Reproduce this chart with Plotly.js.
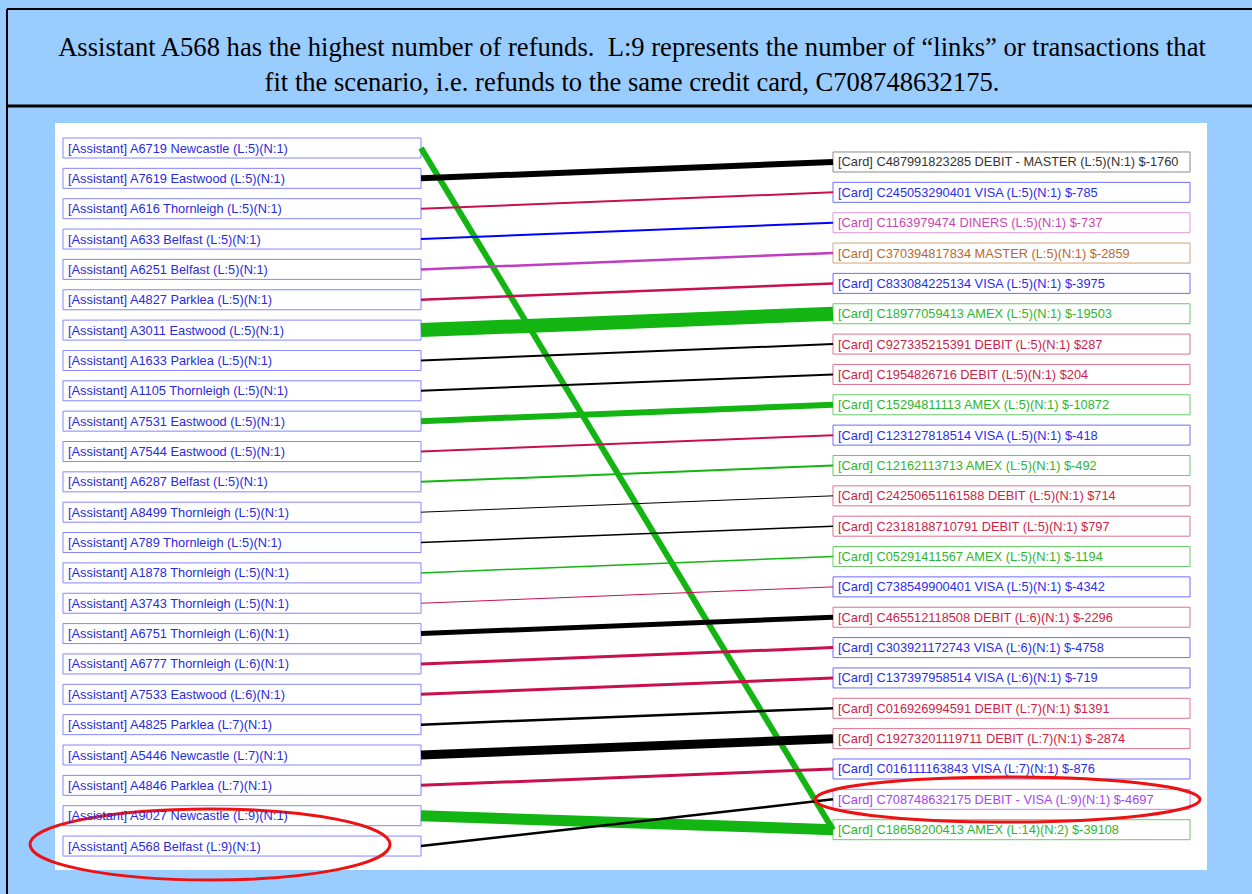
<!DOCTYPE html>
<html>
<head>
<meta charset="utf-8">
<script src="https://cdn.plot.ly/plotly-3.0.1.min.js"></script>
<style>html,body{margin:0;padding:0;background:#99ccff;}#chart{width:1252px;height:894px;}</style>
</head>
<body>
<div id="chart"></div>
<script>
// ---------- DATA ----------
const assistantIds = ["A6719","A7619","A616","A633","A6251","A4827","A3011","A1633","A1105","A7531","A7544","A6287","A8499","A789","A1878","A3743","A6751","A6777","A7533","A4825","A5446","A4846","A9027","A568"];
const assistantSites = ["Newcastle","Eastwood","Thornleigh","Belfast","Belfast","Parklea","Eastwood","Parklea","Thornleigh","Eastwood","Eastwood","Belfast","Thornleigh","Thornleigh","Thornleigh","Thornleigh","Thornleigh","Thornleigh","Eastwood","Parklea","Newcastle","Parklea","Newcastle","Belfast"];
const assistantLinks = [5,5,5,5,5,5,5,5,5,5,5,5,5,5,5,5,6,6,6,7,7,7,9,9];
const assistantN = [1,1,1,1,1,1,1,1,1,1,1,1,1,1,1,1,1,1,1,1,1,1,1,1];

const cardIds = ["C487991823285","C245053290401","C1163979474","C370394817834","C833084225134","C18977059413","C927335215391","C1954826716","C15294811113","C123127818514","C12162113713","C24250651161588","C2318188710791","C05291411567","C738549900401","C465512118508","C303921172743","C137397958514","C016926994591","C19273201119711","C016111163843","C708748632175","C18658200413"];
const cardTypes = ["DEBIT - MASTER","VISA","DINERS","MASTER","VISA","AMEX","DEBIT","DEBIT","AMEX","VISA","AMEX","DEBIT","DEBIT","AMEX","VISA","DEBIT","VISA","VISA","DEBIT","DEBIT","VISA","DEBIT - VISA","AMEX"];
const cardLinks = [5,5,5,5,5,5,5,5,5,5,5,5,5,5,5,6,6,6,7,7,7,9,14];
const cardN = [1,1,1,1,1,1,1,1,1,1,1,1,1,1,1,1,1,1,1,1,1,1,2];
const cardAmounts = [-1760,-785,-737,-2859,-3975,-19503,287,204,-10872,-418,-492,714,797,-1194,-4342,-2296,-4758,-719,1391,-2874,-876,-4697,-39108];

// links: assistant index -> card index
const linkFrom = [0,1,2,3,4,5,6,7,8,9,10,11,12,13,14,15,16,17,18,19,20,21,22,23];
const linkTo   = [22,0,1,2,3,4,5,6,7,8,9,10,11,12,13,14,15,16,17,18,19,20,22,21];

// ---------- STYLE ----------
const linkWidth = [6,6,2,2,2.5,2.5,14,2,2,6,2,2,1,1.5,1.5,1,5,3,3,2.5,9,3,11,2.5];
const linkColor = ["#12b512","#000000","#c8104f","#0000ff","#c03cc0","#c8104f","#12b512","#000000","#000000","#12b512","#c8104f","#12b512","#000000","#000000","#12b512","#c8104f","#000000","#c8104f","#c8104f","#000000","#000000","#c8104f","#12b512","#000000"];
const cardStyle = {
  "DEBIT - MASTER": {text:"#333333", border:"#8a8a8a"},
  "VISA":           {text:"#2b2bef", border:"#6c6cff"},
  "DINERS":         {text:"#cc44b0", border:"#e596d6"},
  "MASTER":         {text:"#b8682c", border:"#d2a276"},
  "AMEX":           {text:"#2eb52e", border:"#66cc66"},
  "DEBIT":          {text:"#cc2248", border:"#e0708e"},
  "DEBIT - VISA":   {text:"#a844ee", border:"#c77cff"}
};
const assistantText = "#2a2ae0", assistantBorder = "#8585ff";

// pixel frame of the graph (layout only)
const W = 1252, H = 894;
const X0PX = 421, XS = 412;     // x=0 at left column edge, x=1 at right column edge
const Y0PX = 148, YS = 30.35;   // y=row index
const RIGHT_OFF = 0.461;        // right column row offset
const boxHalf = 10 / YS;
const leftBoxX0 = (63 - X0PX) / XS, rightBoxX1 = (1190 - X0PX) / XS;
const labelFont = "Liberation Sans, Arial";
const labelSize = 12.8;

const fmtAmt = v => v < 0 ? "$-" + Math.abs(v) : "$" + v;

const traces = [];
for (let k = 0; k < linkFrom.length; k++) {
  traces.push({
    type: "scatter", mode: "lines",
    x: [0, 1],
    y: [linkFrom[k], linkTo[k] + RIGHT_OFF],
    line: {color: linkColor[k], width: linkWidth[k]},
    hoverinfo: "skip", showlegend: false
  });
}

const shapes = [];
const annotations = [];
const px = v => v / W, py = v => 1 - v / H;

// frame decorations (paper coordinates)
shapes.push({type:"rect", xref:"paper", yref:"paper", x0:px(55), x1:px(1207), y0:py(870), y1:py(123), fillcolor:"#ffffff", line:{width:0}, layer:"below"});
shapes.push({type:"line", xref:"paper", yref:"paper", x0:px(7), x1:px(1252), y0:py(9), y1:py(9), line:{color:"#000", width:2}, layer:"below"});
shapes.push({type:"line", xref:"paper", yref:"paper", x0:px(7), x1:px(1252), y0:py(106), y1:py(106), line:{color:"#000", width:3}, layer:"below"});
shapes.push({type:"line", xref:"paper", yref:"paper", x0:px(7), x1:px(7), y0:py(9), y1:py(894), line:{color:"#000", width:2}, layer:"below"});

assistantIds.forEach((id, i) => {
  shapes.push({type:"rect", xref:"x", yref:"y", x0:leftBoxX0, x1:0, y0:i - boxHalf, y1:i + boxHalf,
    line:{color:assistantBorder, width:1}, fillcolor:"rgba(0,0,0,0)", layer:"below"});
  annotations.push({xref:"x", yref:"y", x:leftBoxX0 + 3 / XS, y:i, xanchor:"left", yanchor:"middle",
    text:"[Assistant] " + id + " " + assistantSites[i] + " (L:" + assistantLinks[i] + ")(N:" + assistantN[i] + ")",
    showarrow:false, font:{family:labelFont, size:labelSize, color:assistantText}});
});

cardIds.forEach((id, j) => {
  const st = cardStyle[cardTypes[j]];
  const yc = j + RIGHT_OFF;
  shapes.push({type:"rect", xref:"x", yref:"y", x0:1, x1:rightBoxX1, y0:yc - boxHalf, y1:yc + boxHalf,
    line:{color:st.border, width:1}, fillcolor:"rgba(0,0,0,0)", layer:"below"});
  annotations.push({xref:"x", yref:"y", x:1 + 3 / XS, y:yc, xanchor:"left", yanchor:"middle",
    text:"[Card] " + id + " " + cardTypes[j] + " (L:" + cardLinks[j] + ")(N:" + cardN[j] + ") " + fmtAmt(cardAmounts[j]),
    showarrow:false, font:{family:labelFont, size:labelSize, color:st.text}});
});

// highlight ellipses
shapes.push({type:"circle", xref:"x", yref:"y", x0:(30 - X0PX) / XS, x1:(390 - X0PX) / XS, y0:(809 - Y0PX) / YS, y1:(880 - Y0PX) / YS, line:{color:"#ee1111", width:3}, fillcolor:"rgba(0,0,0,0)"});
shapes.push({type:"circle", xref:"x", yref:"y", x0:(815 - X0PX) / XS, x1:(1200 - X0PX) / XS, y0:(777 - Y0PX) / YS, y1:(822 - Y0PX) / YS, line:{color:"#ee1111", width:3}, fillcolor:"rgba(0,0,0,0)"});

const layout = {
  width: W, height: H, autosize: false,
  margin: {l:0, r:0, t:0, b:0, pad:0},
  paper_bgcolor: "#99ccff", plot_bgcolor: "rgba(0,0,0,0)",
  title: {
    text: "Assistant A568 has the highest number of refunds.  L:9 represents the number of \u201clinks\u201d or transactions that<br>fit the scenario, i.e. refunds to the same credit card, C708748632175.",
    font: {family:"Liberation Serif, Times New Roman", size:26.6, color:"#000"},
    x: 632 / W, xanchor: "center", y: 1 - 56 / H, yanchor: "middle"
  },
  xaxis: {range:[(0 - X0PX) / XS, (W - X0PX) / XS], visible:false, fixedrange:true},
  yaxis: {range:[(H - Y0PX) / YS, (0 - Y0PX) / YS], visible:false, fixedrange:true},
  shapes: shapes, annotations: annotations, showlegend: false, hovermode: false
};

Plotly.newPlot("chart", traces, layout, {displayModeBar:false, staticPlot:true});
</script>
</body>
</html>
